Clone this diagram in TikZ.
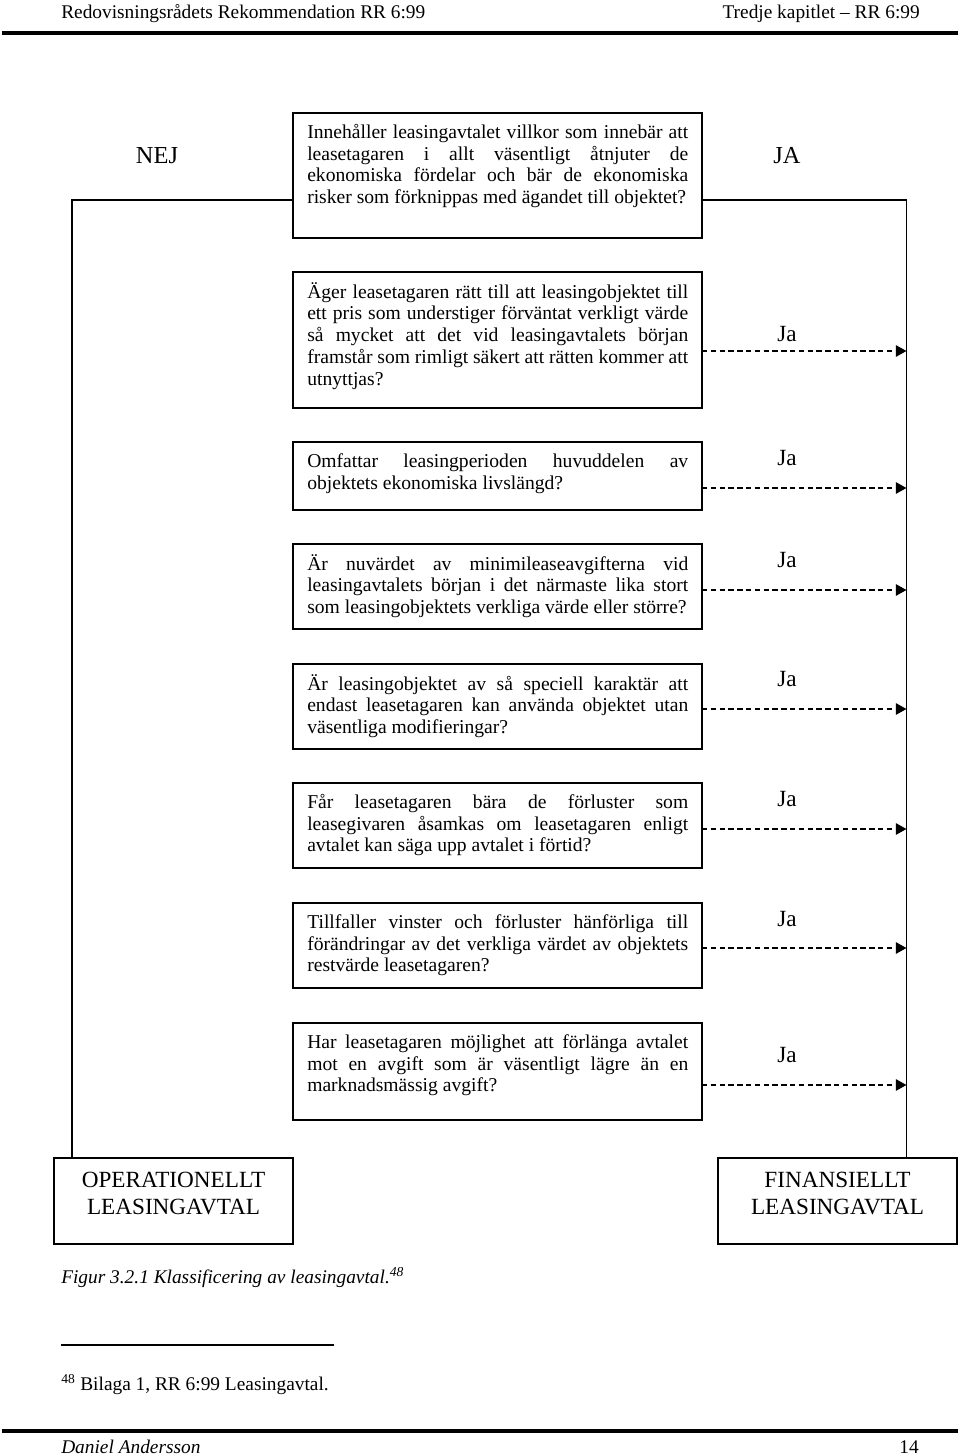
\documentclass[tikz,border=0pt]{standalone}
\usepackage{fontspec}
\setmainfont{Liberation Serif}
\usetikzlibrary{arrows.meta}
\newlength\qw
\setlength\qw{285.75pt}
\newcommand\jl[1]{\makebox[\qw][s]{\spaceskip=0pt\xspaceskip=0pt\strut #1}\\}
\newcommand\lastline[1]{\makebox{\spaceskip=0pt\xspaceskip=0pt\strut #1}}
\newcommand\qfont{\fontsize{14.7}{16.3}\selectfont}
\newcommand\bigfont{\fontsize{17.4}{20.25}\selectfont}
\newcommand\nejfont{\fontsize{18.3}{20}\selectfont}
\newcommand\pagefont{\fontsize{14.52}{17}\selectfont}
\begin{document}
\begin{tikzpicture}[x=0.75pt,y=-0.75pt,
  qbox/.style={draw,line width=1.4pt,minimum width=306.75pt,inner sep=0pt,outer sep=0pt},
  qtext/.style={anchor=north west,inner sep=0pt,text width=285.75pt,align=left,font=\qfont},
  endbox/.style={draw,line width=1.4pt,minimum width=179.25pt,minimum height=64.5pt,inner sep=0pt,outer sep=0pt},
  endtext/.style={align=center,inner sep=0pt,font=\bigfont},
  jalab/.style={inner sep=0pt,font=\bigfont},
  nejlab/.style={inner sep=0pt,font=\nejfont},
  conn/.style={line width=1.4pt},
  jaarr/.style={line width=1.4pt,dash pattern=on 4.1pt off 2.5pt,-{Triangle[length=8pt,width=8.5pt]}},
  rule/.style={line width=3.6pt},
  pagetext/.style={inner sep=0pt,font=\pagefont}]
\useasboundingbox (0,0) rectangle (960,1455);

% page header
\node[pagetext,anchor=base west] (hl) at (61,18.5) {Redovisningsrådets Rekommendation RR 6:99};
\node[pagetext,anchor=base east] (hr) at (920,18.5) {Tredje kapitlet – RR 6:99};
\coordinate (tr1) at (2,33);
\coordinate (tr2) at (958,33);
\draw[rule] (tr1) -- (tr2);

% question boxes
\node[qbox,minimum height=93.75pt] (b1) at (497.5,175.5) {};
\node[qtext] (t1) at (307,123) {\jl{Innehåller leasingavtalet villkor som innebär att}\jl{leasetagaren i allt väsentligt åtnjuter de}\jl{ekonomiska fördelar och bär de ekonomiska}\lastline{risker som förknippas med ägandet till objektet?}};

\node[qbox,minimum height=102pt] (b2) at (497.5,340) {};
\node[qtext] (t2) at (307,282) {\jl{Äger leasetagaren rätt till att leasingobjektet till}\jl{ett pris som understiger förväntat verkligt värde}\jl{så mycket att det vid leasingavtalets början}\jl{framstår som rimligt säkert att rätten kommer att}\lastline{utnyttjas?}};

\node[qbox,minimum height=51pt] (b3) at (497.5,476) {};
\node[qtext] (t3) at (307,452) {\jl{Omfattar leasingperioden huvuddelen av}\lastline{objektets ekonomiska livslängd?}};

\node[qbox,minimum height=63.75pt] (b4) at (497.5,586.5) {};
\node[qtext] (t4) at (307,554) {\jl{Är nuvärdet av minimileaseavgifterna vid}\jl{leasingavtalets början i det närmaste lika stort}\lastline{som leasingobjektets verkliga värde eller större?}};

\node[qbox,minimum height=63.75pt] (b5) at (497.5,706.5) {};
\node[qtext] (t5) at (307,674) {\jl{Är leasingobjektet av så speciell karaktär att}\jl{endast leasetagaren kan använda objektet utan}\lastline{väsentliga modifieringar?}};

\node[qbox,minimum height=63.75pt] (b6) at (497.5,825.5) {};
\node[qtext] (t6) at (307,793) {\jl{Får leasetagaren bära de förluster som}\jl{leasegivaren åsamkas om leasetagaren enligt}\lastline{avtalet kan säga upp avtalet i förtid?}};

\node[qbox,minimum height=63.75pt] (b7) at (497.5,945.5) {};
\node[qtext] (t7) at (307,913) {\jl{Tillfaller vinster och förluster hänförliga till}\jl{förändringar av det verkliga värdet av objektets}\lastline{restvärde leasetagaren?}};

\node[qbox,minimum height=72.75pt] (b8) at (497.5,1071.5) {};
\node[qtext] (t8) at (307,1033) {\jl{Har leasetagaren möjlighet att förlänga avtalet}\jl{mot en avgift som är väsentligt lägre än en}\lastline{marknadsmässig avgift?}};

% NEJ / JA
\node[nejlab] (nej) at (157,156) {NEJ};
\node[nejlab] (ja) at (787,156) {JA};

% end boxes
\node[endbox] (op) at (173.5,1201) {};
\node[endtext] (optext) at (173.5,1193.5) {OPERATIONELLT\\LEASINGAVTAL};
\node[endbox] (fin) at (837.5,1201) {};
\node[endtext] (fintext) at (837.5,1193.5) {FINANSIELLT\\LEASINGAVTAL};

% main connectors
\coordinate (nl) at (72,200);
\coordinate (jr) at (906.5,200);
\draw[conn] (b1.west |- nl) -- (nl) -- (op.north -| nl);
\draw[conn] (b1.east |- jr) -- (jr) -- (fin.north -| jr);

% Ja arrows
\coordinate (r2) at (906.5,351);
\coordinate (r3) at (906.5,488);
\coordinate (r4) at (906.5,590);
\coordinate (r5) at (906.5,709);
\coordinate (r6) at (906.5,829);
\coordinate (r7) at (906.5,948);
\coordinate (r8) at (906.5,1085);
\draw[jaarr] (b2.east |- r2) -- (r2);
\draw[jaarr] (b3.east |- r3) -- (r3);
\draw[jaarr] (b4.east |- r4) -- (r4);
\draw[jaarr] (b5.east |- r5) -- (r5);
\draw[jaarr] (b6.east |- r6) -- (r6);
\draw[jaarr] (b7.east |- r7) -- (r7);
\draw[jaarr] (b8.east |- r8) -- (r8);
\node[jalab] (ja2) at (787,334) {Ja};
\node[jalab] (ja3) at (787,458) {Ja};
\node[jalab] (ja4) at (787,560) {Ja};
\node[jalab] (ja5) at (787,679) {Ja};
\node[jalab] (ja6) at (787,799) {Ja};
\node[jalab] (ja7) at (787,919) {Ja};
\node[jalab] (ja8) at (787,1055) {Ja};

% caption and footnote
\node[pagetext,anchor=base west] (cap) at (61,1283) {\itshape Figur 3.2.1 Klassificering av leasingavtal.\textsuperscript{48}};
\coordinate (fr1) at (61,1345);
\coordinate (fr2) at (334,1345);
\draw[line width=1.1pt] (fr1) -- (fr2);
\node[pagetext,anchor=base west] (fn) at (61,1390) {\textsuperscript{48} Bilaga 1, RR 6:99 Leasingavtal.};

% footer
\coordinate (br1) at (2,1431);
\coordinate (br2) at (958,1431);
\draw[rule] (br1) -- (br2);
\node[pagetext,anchor=base west] (fl) at (61,1453) {\itshape Daniel Andersson};
\node[pagetext,anchor=base east] (fr) at (919,1453) {14};
\end{tikzpicture}
\end{document}
